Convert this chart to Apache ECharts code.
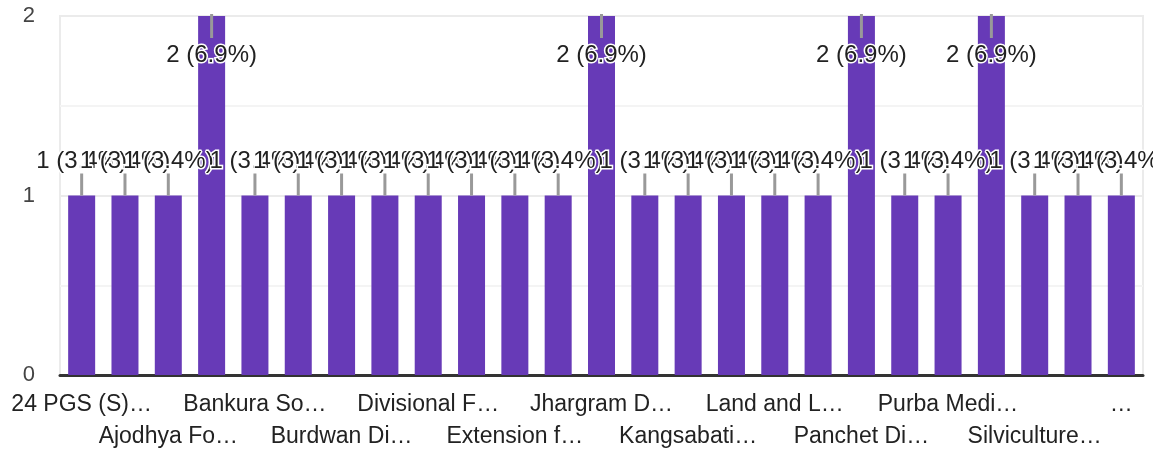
<!DOCTYPE html>
<html>
<head>
<meta charset="utf-8">
<script src="https://cdn.jsdelivr.net/npm/echarts@6/dist/echarts.min.js"></script>
<style>
html,body{margin:0;padding:0;background:#fff;}
#chart{width:1153px;height:450px;}
</style>
</head>
<body>
<div id="chart"></div>
<script>
const categories = [
  "24 PGS (S)…", "Alipurduar Di…", "Ajodhya Fo…", "Bankura No…", "Bankura So…",
  "Birbhum Di…", "Burdwan Di…", "Cooch Beha…", "Divisional F…", "Durgapur Di…",
  "Extension f…", "Hooghly Di…", "Jhargram D…", "Jalpaiguri Di…", "Kangsabati…",
  "Kharagpur Di…", "Land and L…", "Nadia Di…", "Panchet Di…", "Paschim Medi…",
  "Purba Medi…", "Rupnarayan…", "Silviculture…", "Social Fore…", "…"
];
const values = [1,1,1,2,1, 1,1,1,1,1, 1,1,2,1,1, 1,1,1,2,1, 1,2,1,1,1];
const yTicks = [0, 1, 2];

const total = values.reduce((a,b)=>a+b,0);
const FONT = '"Liberation Sans", Arial, sans-serif';
const chart = echarts.init(document.getElementById('chart'), null, {renderer:'canvas'});
const yMax = yTicks[yTicks.length-1];

const labelBase = {color: '#222', fontSize: 23, fontFamily: FONT, hideOverlap: false};

chart.setOption({
  animation: false,
  grid: {left: 60, right: 10, top: 16, bottom: 75, containLabel: false, outerBoundsMode: 'none',
         show: true, borderColor: '#ebebeb', borderWidth: 2, backgroundColor: 'transparent'},
  xAxis: [
    {
      type: 'category',
      data: categories,
      position: 'bottom',
      axisLine: {show: true, lineStyle: {color: '#333', width: 3}},
      axisTick: {show: false},
      axisLabel: Object.assign({}, labelBase, {margin: 18, interval: (i) => i % 4 === 0})
    },
    {
      type: 'category',
      data: categories,
      position: 'bottom',
      axisLine: {show: false},
      axisTick: {show: false},
      splitLine: {show: false},
      axisLabel: Object.assign({}, labelBase, {margin: 50, interval: (i) => i % 4 === 2})
    }
  ],
  yAxis: {
    type: 'value',
    min: yTicks[0], max: yMax, interval: 1,
    axisLine: {show: false},
    axisTick: {show: false},
    axisLabel: {color: '#444', fontSize: 22, fontFamily: FONT, margin: 25},
    splitLine: {show: true, lineStyle: {color: '#ebebeb', width: 2}},
    minorTick: {show: false, splitNumber: 2},
    minorSplitLine: {show: true, lineStyle: {color: '#f4f4f4', width: 2}}
  },
  series: [
    {
      type: 'bar',
      xAxisIndex: 0,
      data: values,
      barWidth: 27,
      itemStyle: {color: '#673ab7'},
      z: 2
    },
    {
      type: 'custom',
      xAxisIndex: 0,
      z: 5,
      data: values.map((v, i) => [i, v]),
      renderItem: function (params, api) {
        const v = api.value(1);
        const p = api.coord([api.value(0), v]);
        const atTop = v >= yMax;
        const dir = atTop ? 1 : -1;
        const pct = (v / total * 100).toFixed(1);
        return {
          type: 'group',
          children: [
            {type: 'line', shape: {x1: p[0], y1: p[1] + (atTop ? -2 : 0), x2: p[0], y2: p[1] + dir * 22},
             style: {stroke: '#999', lineWidth: 3}},
            {type: 'text', x: p[0], y: p[1] + (atTop ? 39 : -34),
             style: {text: v + ' (' + pct + '%)', fill: '#222', stroke: '#fff', lineWidth: 3,
                     font: '24px ' + FONT, align: 'center', verticalAlign: 'middle'}}
          ]
        };
      }
    }
  ]
});
</script>
</body>
</html>
